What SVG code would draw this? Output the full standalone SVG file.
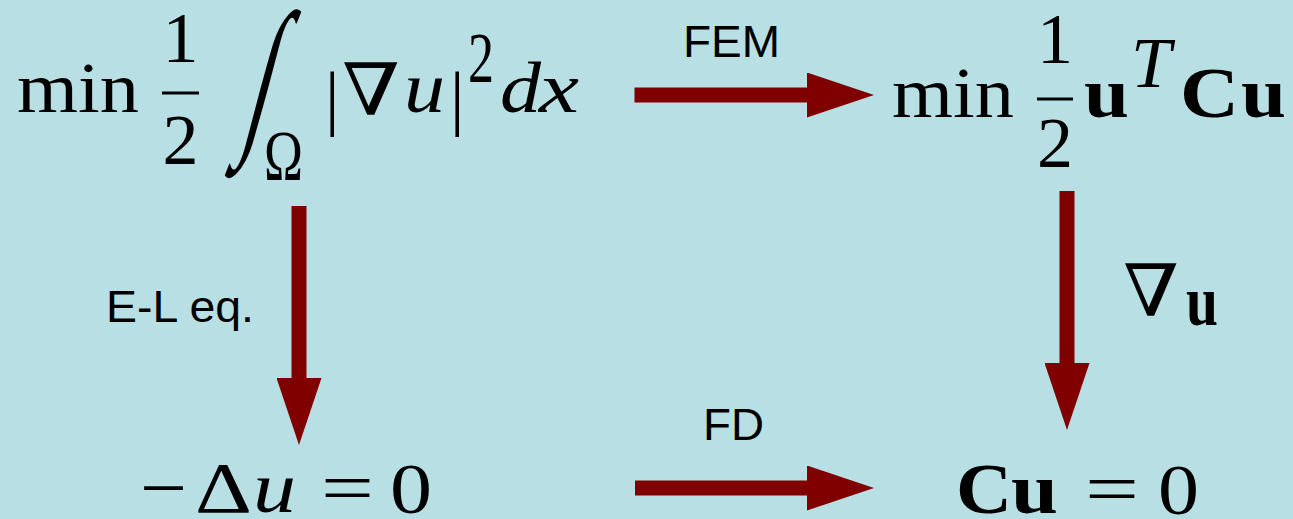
<svg xmlns="http://www.w3.org/2000/svg" width="1293" height="519" viewBox="0 0 1293 519">
<style>
.m{font-family:"Liberation Serif","DejaVu Serif",serif;font-size:72px;fill:#000}
.nab{font-family:"DejaVu Serif","Liberation Serif",serif;font-size:72px;fill:#000}
.i{font-style:italic}
.b{font-weight:bold}
.lab{font-family:"Liberation Sans",Arial,sans-serif;font-size:44px;fill:#000}
.conn{stroke:#800000;stroke-width:15;fill:none}
.bar{fill:#000}
</style>
<defs>
<marker id="ah" viewBox="0 0 67 45" markerWidth="67" markerHeight="45" refX="0" refY="22.5" orient="auto" markerUnits="userSpaceOnUse">
<path d="M0,0 L67,22.5 L0,45 Z" fill="#800000"/>
</marker>
</defs>
<rect width="1293" height="519" fill="#b8dfe3"/>

<g id="connectors">
<line class="conn" x1="634.5" y1="95" x2="807" y2="95" marker-end="url(#ah)"/>
<line class="conn" x1="635" y1="488" x2="807" y2="488" marker-end="url(#ah)"/>
<line class="conn" x1="299" y1="206" x2="299" y2="378" marker-end="url(#ah)"/>
<line class="conn" x1="1067" y1="191" x2="1067" y2="363" marker-end="url(#ah)"/>
<text class="lab" x="683" y="57" textLength="97" lengthAdjust="spacingAndGlyphs">FEM</text>
<text class="lab" x="106" y="322" textLength="148" lengthAdjust="spacingAndGlyphs">E-L eq.</text>
<text class="lab" x="703" y="440" textLength="61" lengthAdjust="spacingAndGlyphs">FD</text>
<text class="nab" x="1123" y="316" textLength="56" lengthAdjust="spacingAndGlyphs">∇</text>
<text class="m b" x="1186" y="325" font-size="48" textLength="32" lengthAdjust="spacingAndGlyphs">u</text>
</g>

<g id="node-energy">
<text class="m" x="17" y="112" textLength="122" lengthAdjust="spacingAndGlyphs">min</text>
<text class="m" x="180.5" y="62" text-anchor="middle">1</text>
<rect class="bar" x="162" y="91.5" width="37" height="3"/>
<text class="m" x="180.5" y="164" text-anchor="middle">2</text>
<text class="m" x="0" y="0" font-size="110" transform="translate(241,131.6) skewX(-15) scale(1.2,2.39)">∫</text>
<text class="m" x="264" y="180" font-size="50" textLength="39" lengthAdjust="spacingAndGlyphs">Ω</text>
<text class="m" x="325" y="122" font-size="80">|</text>
<text class="nab" x="342" y="115" textLength="58" lengthAdjust="spacingAndGlyphs">∇</text>
<text class="m i" x="404" y="112" textLength="41" lengthAdjust="spacingAndGlyphs">u</text>
<text class="m" x="450" y="122" font-size="80">|</text>
<text class="m" x="468" y="82" font-size="48" textLength="26" lengthAdjust="spacingAndGlyphs">2</text>
<text class="m i" x="500" y="112" textLength="41" lengthAdjust="spacingAndGlyphs">d</text>
<text class="m i" x="539" y="112" textLength="40" lengthAdjust="spacingAndGlyphs">x</text>
</g>

<g id="node-discrete-energy">
<text class="m" x="892" y="117" textLength="122" lengthAdjust="spacingAndGlyphs">min</text>
<text class="m" x="1055" y="63" text-anchor="middle">1</text>
<rect class="bar" x="1037" y="97.5" width="36" height="3"/>
<text class="m" x="1055" y="167" text-anchor="middle">2</text>
<text class="m b" x="1084" y="117" textLength="45" lengthAdjust="spacingAndGlyphs">u</text>
<text class="m i" x="1131" y="87" font-size="50" textLength="40" lengthAdjust="spacingAndGlyphs">T</text>
<text class="m b" x="1180" y="117" textLength="59" lengthAdjust="spacingAndGlyphs">C</text>
<text class="m b" x="1241" y="117" textLength="45" lengthAdjust="spacingAndGlyphs">u</text>
</g>

<g id="node-laplace">
<text class="m" x="140" y="512" textLength="47" lengthAdjust="spacingAndGlyphs">−</text>
<text class="m" x="195" y="512" textLength="57" lengthAdjust="spacingAndGlyphs">Δ</text>
<text class="m i" x="253" y="512" textLength="43" lengthAdjust="spacingAndGlyphs">u</text>
<text class="m" x="321" y="512" textLength="53" lengthAdjust="spacingAndGlyphs">=</text>
<text class="m" x="390" y="513" textLength="42" lengthAdjust="spacingAndGlyphs">0</text>
</g>

<g id="node-linear-system">
<text class="m b" x="956" y="513" textLength="56" lengthAdjust="spacingAndGlyphs">C</text>
<text class="m b" x="1011" y="513" textLength="47" lengthAdjust="spacingAndGlyphs">u</text>
<text class="m" x="1085" y="513" textLength="54" lengthAdjust="spacingAndGlyphs">=</text>
<text class="m" x="1158" y="514" textLength="41" lengthAdjust="spacingAndGlyphs">0</text>
</g>
</svg>
